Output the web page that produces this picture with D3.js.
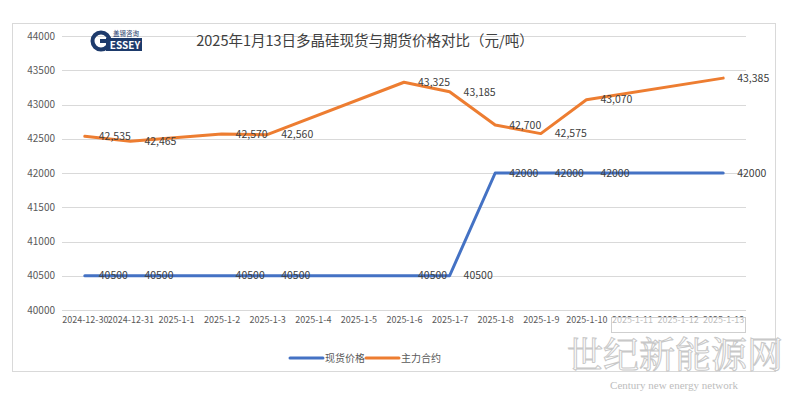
<!DOCTYPE html>
<html>
<head>
<meta charset="utf-8">
<script src="https://cdn.jsdelivr.net/npm/d3@7"></script>
<style>
  body { margin: 0; background: #fff; }
  text { font-family: "Noto Sans CJK SC", "Noto Sans", sans-serif; }
</style>
</head>
<body>
<div id="chart"></div>
<script>
// categories and values
const dates = ["2024-12-30", "2024-12-31", "2025-1-1", "2025-1-2", "2025-1-3", "2025-1-4", "2025-1-5",
               "2025-1-6", "2025-1-7", "2025-1-8", "2025-1-9", "2025-1-10", "2025-1-11", "2025-1-12", "2025-1-13"];
const spotPrice = [40500, 40500, null, 40500, 40500, null, null, 40500, 40500, 42000, 42000, 42000, null, null, 42000];
const futuresPrice = [42535, 42465, null, 42570, 42560, null, null, 43325, 43185, 42700, 42575, 43070, null, null, 43385];
const yTicks = [40000, 40500, 41000, 41500, 42000, 42500, 43000, 43500, 44000];
const seriesNames = ["现货价格", "主力合约"];

let w = 794, h = 393;
let colors = ["#4472c4", "#ed7d31"];

let svg = d3.select("#chart")
            .append("svg")
            .attr("width", w)
            .attr("height", h);

// outer chart border
svg.append("rect")
  .attr("x", 12.5).attr("y", 23.5)
  .attr("width", 763).attr("height", 348)
  .attr("fill", "#fff")
  .attr("stroke", "#d9d9d9");

let x = d3.scalePoint()
          .domain(dates)
          .range([62, 746])
          .padding(0.5);

let y = d3.scaleLinear()
          .domain([40000, 44000])
          .range([310, 36]);

// gridlines
svg.append("g")
  .selectAll("line")
  .data(yTicks)
  .enter()
  .append("line")
  .attr("x1", 62).attr("x2", 746)
  .attr("y1", d => Math.round(y(d)) + 0.5)
  .attr("y2", d => Math.round(y(d)) + 0.5)
  .attr("stroke", "#d9d9d9");

// y axis labels
let yAxis = d3.axisLeft(y).tickValues(yTicks).tickSize(0).tickPadding(7).tickFormat(d3.format("d"));
svg.append("g")
  .attr("transform", "translate(62,0)")
  .call(yAxis)
  .call(g => g.select(".domain").remove())
  .selectAll("text")
  .attr("fill", "#595959")
  .style("font-size", "10px");

// x axis labels
let xAxis = d3.axisBottom(x).tickSize(0).tickPadding(7);
svg.append("g")
  .attr("transform", "translate(0,310)")
  .call(xAxis)
  .call(g => g.select(".domain").remove())
  .selectAll("text")
  .attr("fill", "#595959")
  .style("font-size", "9px");

// watermark box near x labels
svg.append("rect")
  .attr("x", 611.5).attr("y", 317.5)
  .attr("width", 134).attr("height", 15)
  .attr("fill", "rgba(255,255,255,0.6)")
  .attr("stroke", "#cfcfcf");

let line = d3.line()
             .x(d => x(d.date))
             .y(d => y(d.value));

let series = [spotPrice, futuresPrice].map((vals, i) => ({
  name: seriesNames[i],
  color: colors[i],
  fmt: i == 0 ? d3.format("d") : d3.format(","),
  points: vals.map((v, j) => ({date: dates[j], value: v})).filter(d => d.value != null)
}));

series.forEach(s => {
  svg.append("path")
    .datum(s.points)
    .attr("d", line)
    .attr("fill", "none")
    .attr("stroke", s.color)
    .attr("stroke-width", 3)
    .attr("stroke-linejoin", "round")
    .attr("stroke-linecap", "round");
});

// data labels, to the right of each point
series.forEach(s => {
  svg.append("g")
    .selectAll("text")
    .data(s.points)
    .enter()
    .append("text")
    .attr("x", d => x(d.date) + 14)
    .attr("y", d => y(d.value))
    .attr("dy", "0.35em")
    .attr("fill", "#404040")
    .style("font-size", "10.5px")
    .text(d => s.fmt(d.value));
});

// title
svg.append("text")
  .attr("x", 365).attr("y", 41)
  .attr("dy", "0.35em")
  .attr("text-anchor", "middle")
  .attr("fill", "#404040")
  .style("font-size", "14.5px")
  .text("2025年1月13日多晶硅现货与期货价格对比（元/吨）");

// logo
let logo = svg.append("g");
logo.append("rect")
  .attr("x", 106).attr("y", 38)
  .attr("width", 36).attr("height", 13)
  .attr("fill", "#1d3a6b");
logo.append("circle")
  .attr("cx", 101).attr("cy", 41)
  .attr("r", 8.5)
  .attr("fill", "none")
  .attr("stroke", "#1d3a6b")
  .attr("stroke-width", 4);
logo.append("rect")
  .attr("x", 100).attr("y", 39)
  .attr("width", 10).attr("height", 4)
  .attr("fill", "#1d3a6b");
logo.append("text")
  .attr("x", 125).attr("y", 48.5)
  .attr("text-anchor", "middle")
  .attr("fill", "#fff")
  .style("font-size", "10px")
  .style("font-weight", "bold")
  .text("ESSEY");
logo.append("text")
  .attr("x", 126).attr("y", 36)
  .attr("text-anchor", "middle")
  .attr("fill", "#1d3a6b")
  .style("font-size", "6.5px")
  .text("盖锡咨询");

// legend
let legend = svg.append("g");
let lx = [290, 366];
series.forEach((s, i) => {
  legend.append("line")
    .attr("x1", lx[i]).attr("x2", lx[i] + 33)
    .attr("y1", 358).attr("y2", 358)
    .attr("stroke", s.color)
    .attr("stroke-width", 3)
    .attr("stroke-linecap", "round");
  legend.append("text")
    .attr("x", lx[i] + 35).attr("y", 358)
    .attr("dy", "0.35em")
    .attr("fill", "#595959")
    .style("font-size", "10px")
    .text(s.name);
});

// site watermark
svg.append("text")
  .attr("x", 675).attr("y", 368)
  .attr("text-anchor", "middle")
  .attr("fill", "rgba(255,255,255,0.3)")
  .attr("stroke", "#c8c8c8")
  .attr("stroke-width", 1)
  .style("font-size", "36px")
  .style("font-family", "'Noto Serif CJK SC', 'Noto Sans CJK SC', serif")
  .text("世纪新能源网");
svg.append("text")
  .attr("x", 674).attr("y", 389)
  .attr("text-anchor", "middle")
  .attr("fill", "#bdbdbd")
  .style("font-size", "11px")
  .style("font-family", "'Liberation Serif', 'DejaVu Serif', serif")
  .text("Century new energy network");
</script>
</body>
</html>
